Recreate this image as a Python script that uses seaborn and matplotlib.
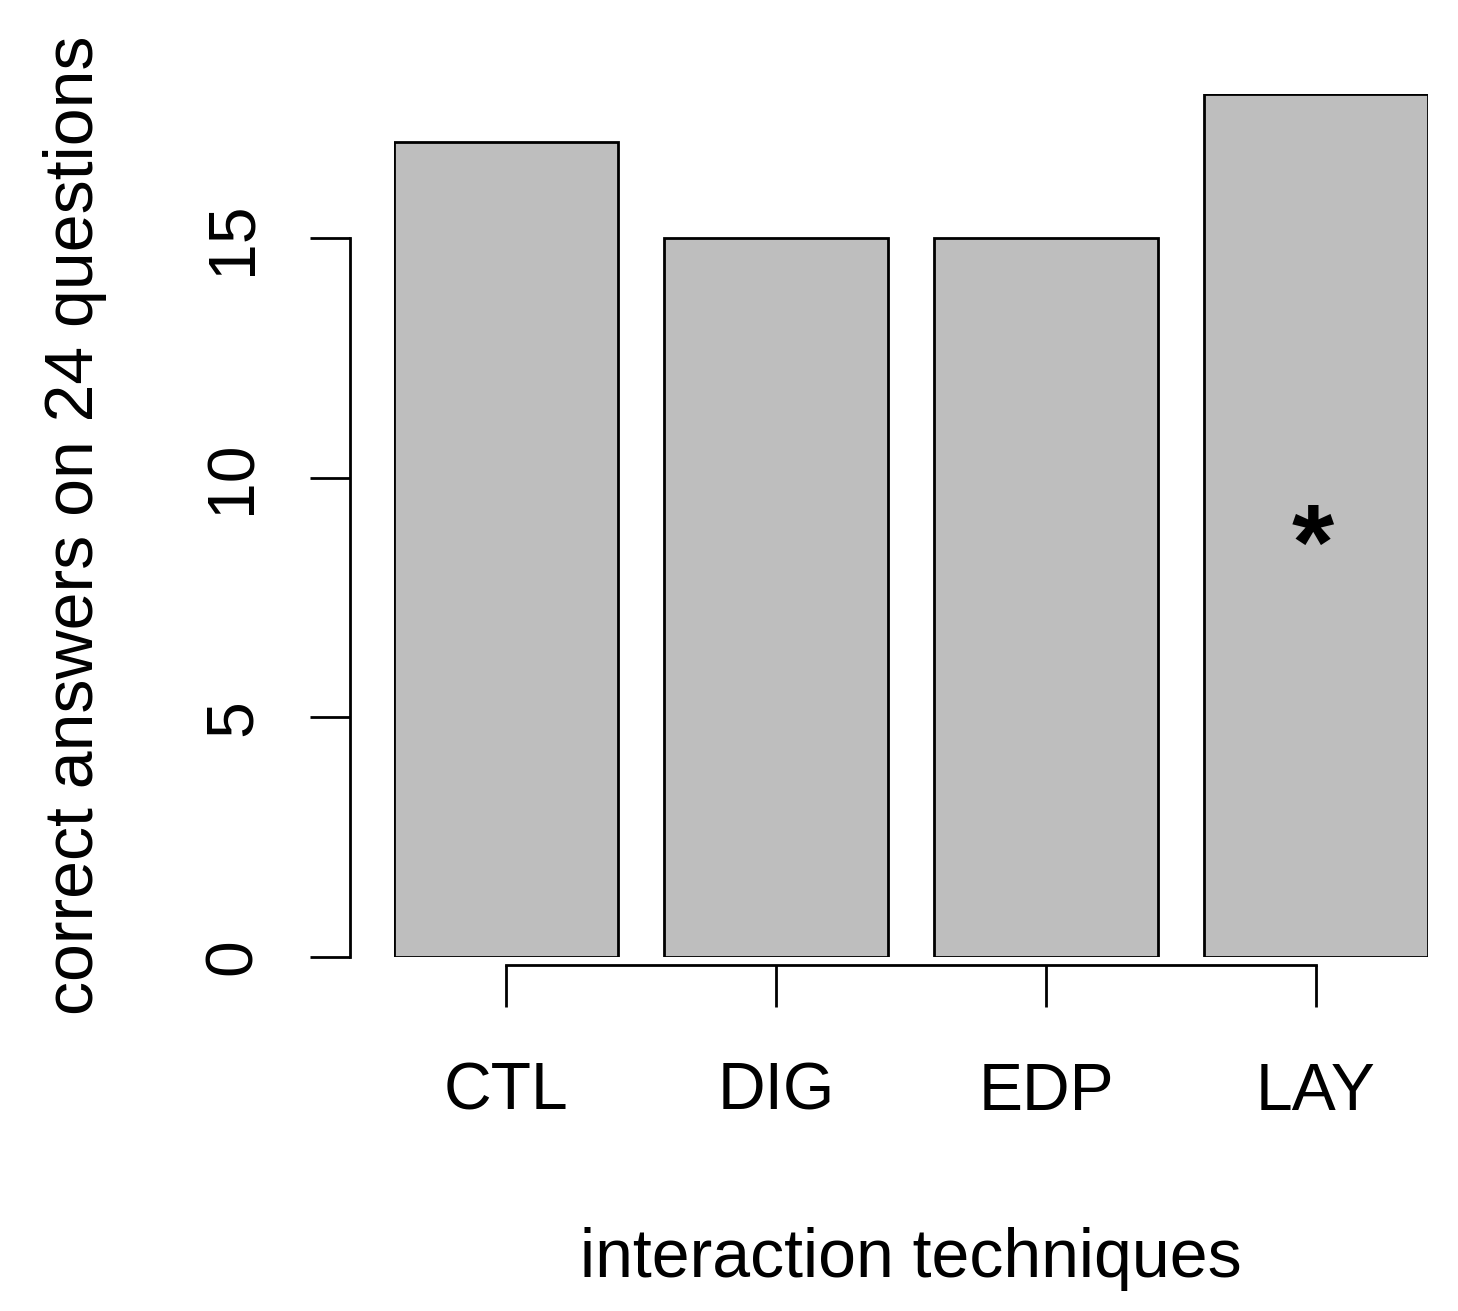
import matplotlib
matplotlib.use("Agg")
import matplotlib.pyplot as plt
import seaborn as sns
import pandas as pd

techniques = ["CTL", "DIG", "EDP", "LAY"]
correct = [17, 15, 15, 18]
starred = "LAY"
y_ticks = [0, 5, 10, 15]

sns.set_style("ticks")
plt.rcParams["font.family"] = ["Liberation Sans", "DejaVu Sans"]
plt.rcParams.update({"text.color": "black", "axes.labelcolor": "black",
                     "xtick.color": "black", "ytick.color": "black",
                     "axes.edgecolor": "black"})

df = pd.DataFrame({"technique": techniques, "correct": correct})

fig = plt.figure(figsize=(14.58, 13.11), dpi=100)
W, H = 1458, 1311
ax = fig.add_axes([394 / W, 1 - 957 / H, (1428 - 394) / W, (957 - 94) / H])

sns.barplot(data=df, x="technique", y="correct", color="#BEBEBE",
            saturation=1, edgecolor="black", linewidth=2, width=0.83, ax=ax)

ax.set_xlim(-0.415, 3.415)
ax.set_ylim(0, 18)

# R-style detached axes
sns.despine(ax=ax)
ax.spines["left"].set_position(("outward", 31.7))
ax.spines["bottom"].set_position(("outward", 5.8))
ax.spines["left"].set_bounds(0, 15)
ax.spines["bottom"].set_bounds(0, 3)
for s in ["left", "bottom"]:
    ax.spines[s].set_linewidth(2)

ax.set_yticks(y_ticks)
ax.set_yticklabels([str(t) for t in y_ticks], rotation=90, va="center")
ax.tick_params(axis="y", length=28.8, width=2, pad=32.5, labelsize=47.5)
ax.tick_params(axis="x", length=30, width=2, pad=39.5, labelsize=47.5)

ax.set_xlabel("interaction techniques", fontsize=49, va="center")
ax.set_ylabel("correct answers on 24 questions", fontsize=49, va="center")
ax.xaxis.set_label_coords(0.5, -0.35)
ax.yaxis.set_label_coords(-0.3085, 0.5)

i = techniques.index(starred)
ax.annotate("*", xy=(i, correct[i] / 2), xytext=(-2, -18),
            textcoords="offset points", ha="center", va="center",
            fontsize=78, fontweight="bold")

fig.savefig("out.png", dpi=100)
